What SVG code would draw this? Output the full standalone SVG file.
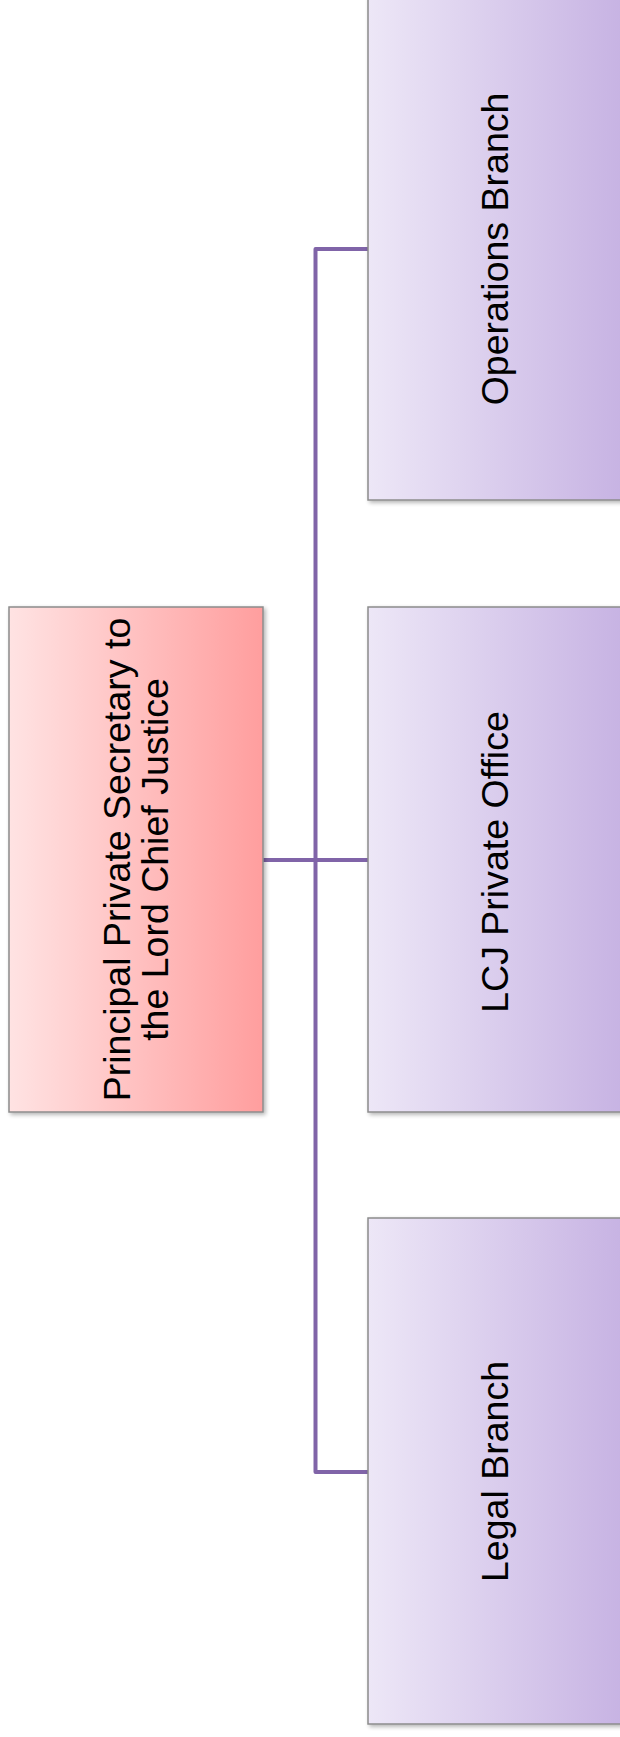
<svg xmlns="http://www.w3.org/2000/svg" width="620" height="1737" viewBox="0 0 620 1737">
<defs>
<linearGradient id="gPink" x1="0" y1="0" x2="1" y2="0">
<stop offset="0" stop-color="#FFE3E3"/>
<stop offset="1" stop-color="#FF9E9E"/>
</linearGradient>
<linearGradient id="gPurple" x1="0" y1="0" x2="1" y2="0">
<stop offset="0" stop-color="#EDE7F7"/>
<stop offset="1" stop-color="#C7B3E3"/>
</linearGradient>
<filter id="sh" x="-5%" y="-5%" width="115%" height="115%">
<feGaussianBlur in="SourceAlpha" stdDeviation="2"/>
<feOffset dx="2" dy="2" result="b"/>
<feComponentTransfer><feFuncA type="linear" slope="0.3"/></feComponentTransfer>
<feMerge><feMergeNode/><feMergeNode in="SourceGraphic"/></feMerge>
</filter>
</defs>
<style>
.box{stroke:#8C8C8C;stroke-width:1.5;filter:url(#sh)}
.pink{fill:url(#gPink)}
.purple{fill:url(#gPurple)}
.lbl{font-family:"Liberation Sans",Arial,sans-serif;font-size:37.5px;fill:#000;text-anchor:middle}
.conn{fill:none;stroke:#8064A8;stroke-width:4;stroke-linejoin:round}
</style>
<rect width="620" height="1737" fill="#FFFFFF"/>
<g id="connectors">
<path class="conn" d="M263,860 H368"/>
<path class="conn" d="M368,249 H315.5 V1472 H368"/>
</g>
<g id="node-principal">
<rect class="box pink" x="9" y="607" width="254" height="505"/>
<g transform="translate(136,859.5) rotate(-90)">
<text class="lbl" x="0" y="-6">Principal Private  Secretary to</text>
<text class="lbl" x="0" y="32">the Lord Chief Justice</text>
</g>
</g>
<g id="node-operations">
<rect class="box purple" x="368" y="-5" width="254" height="505"/>
<text class="lbl" transform="translate(495,249) rotate(-90)" x="0" y="13">Operations Branch</text>
</g>
<g id="node-lcj">
<rect class="box purple" x="368" y="607" width="254" height="505"/>
<text class="lbl" transform="translate(495,862) rotate(-90)" x="0" y="13">LCJ Private Office</text>
</g>
<g id="node-legal">
<rect class="box purple" x="368" y="1218" width="254" height="506"/>
<text class="lbl" transform="translate(495,1471.5) rotate(-90)" x="0" y="13">Legal Branch</text>
</g>
</svg>
